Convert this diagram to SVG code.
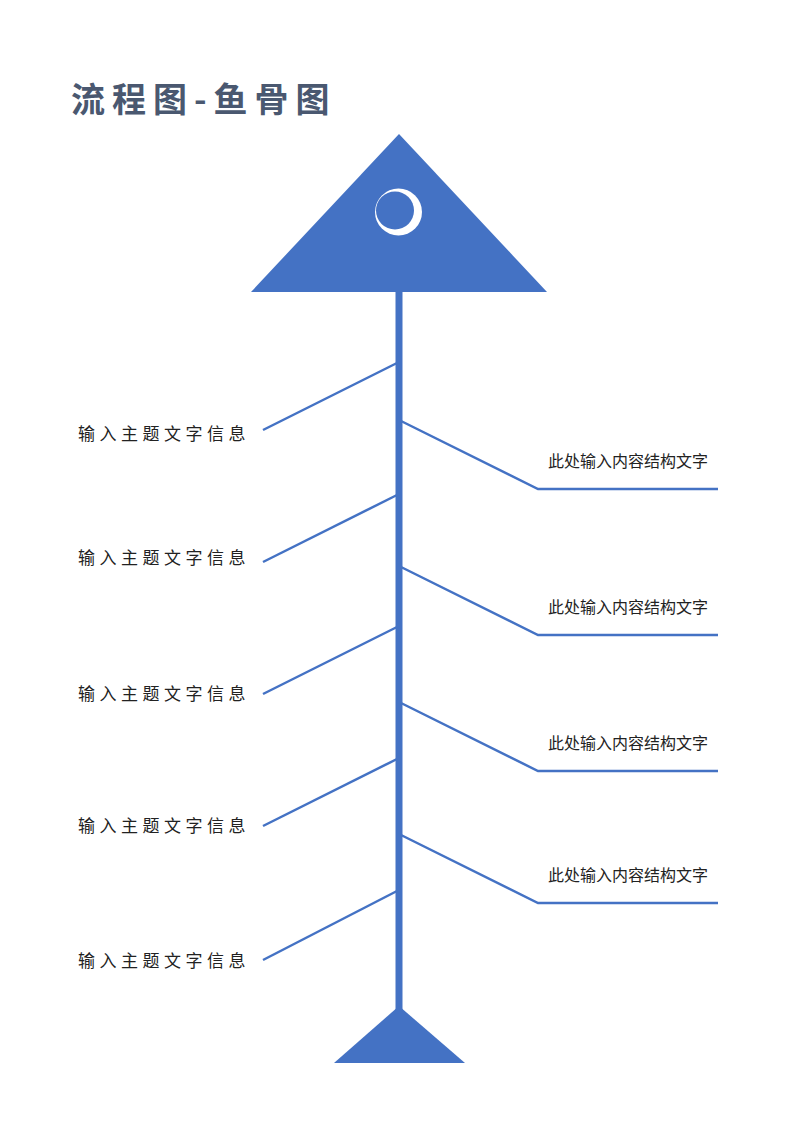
<svg xmlns="http://www.w3.org/2000/svg" width="800" height="1130" viewBox="0 0 800 1130">
<style>
.fill{fill:#4472c4}
.bone{stroke:#4472c4;stroke-width:2.5;fill:none}
.lt{font-family:"Noto Sans CJK SC","Noto Sans",sans-serif;font-size:17px;letter-spacing:4.5px;fill:#222}
.rt{font-family:"Noto Sans CJK SC","Noto Sans",sans-serif;font-size:16px;fill:#222}
.title{font-family:"Noto Sans CJK SC","Noto Sans",sans-serif;font-size:34px;font-weight:bold;letter-spacing:7px;fill:#4a5870}
</style>
<rect width="800" height="1130" fill="#fff"/>
<text class="title" x="71" y="112">流程图-鱼骨图</text>
<g id="head">
<polygon class="fill" points="399,134 547,292 251,292"/>
<circle cx="398.5" cy="212" r="23.5" fill="#fff"/>
<circle cx="395" cy="210.5" r="19" fill="#4472c4"/>
</g>
<g id="spine">
<rect class="fill" x="395.5" y="290" width="7" height="722"/>
</g>
<g id="tail">
<polygon class="fill" points="399,1006 465,1063 334,1063"/>
</g>
<g id="connectors">
<line class="bone" x1="397" y1="363" x2="263" y2="430"/>
<line class="bone" x1="397" y1="495" x2="263" y2="562"/>
<line class="bone" x1="397" y1="627" x2="263" y2="694"/>
<line class="bone" x1="397" y1="759" x2="263" y2="826"/>
<line class="bone" x1="397" y1="891" x2="263" y2="960"/>
<polyline class="bone" points="401,421 538,489 718,489"/>
<polyline class="bone" points="401,567 538,635 718,635"/>
<polyline class="bone" points="401,703 538,771 718,771"/>
<polyline class="bone" points="401,835 538,903 718,903"/>
</g>
<g id="left1"><text class="lt" x="78" y="440">输入主题文字信息</text></g>
<g id="left2"><text class="lt" x="78" y="564">输入主题文字信息</text></g>
<g id="left3"><text class="lt" x="78" y="700">输入主题文字信息</text></g>
<g id="left4"><text class="lt" x="78" y="832">输入主题文字信息</text></g>
<g id="left5"><text class="lt" x="78" y="967">输入主题文字信息</text></g>
<g id="right1"><text class="rt" x="548" y="467">此处输入内容结构文字</text></g>
<g id="right2"><text class="rt" x="548" y="613">此处输入内容结构文字</text></g>
<g id="right3"><text class="rt" x="548" y="749">此处输入内容结构文字</text></g>
<g id="right4"><text class="rt" x="548" y="881">此处输入内容结构文字</text></g>
</svg>
